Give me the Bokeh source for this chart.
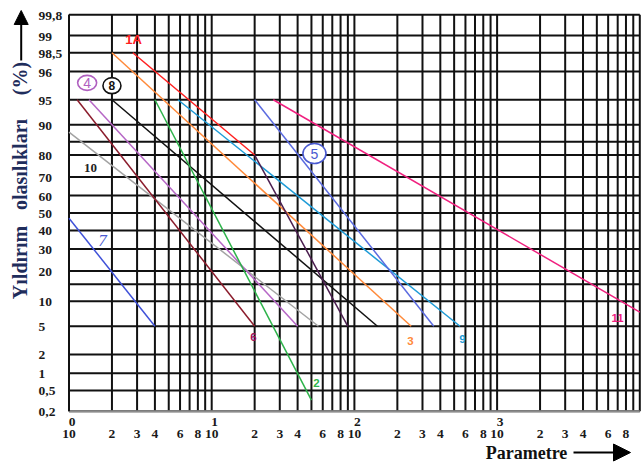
import math
import numpy as np
from statistics import NormalDist
from bokeh.plotting import figure
from bokeh.models import Range1d, Label, Arrow, NormalHead, ColumnDataSource
from bokeh.core.properties import value
from bokeh.embed import file_html
from bokeh.resources import INLINE

# ---------------- axis graduation ----------------
Y_TICK_VALUES = [0.2, 0.5, 1, 2, 5, 10, 20, 30, 40, 50, 60, 70, 80, 90, 95, 96, 98.5, 99, 99.8]
Y_TICK_LABELS = ["0,2", "0,5", "1", "2", "5", "10", "20", "30", "40", "50", "60", "70",
                 "80", "90", "95", "96", "98,5", "99", "99,8"]
Y_UNLABELLED_GRID = [15, 85]
# the chart's own graduation above 95 %
UPPER_LABELS = [95, 96, 98.5, 99, 99.8]
UPPER_NOMINAL = [95, 98, 99, 99.5, 99.8]

X_DECADES = [0, 1, 2, 3]
X_MULTIPLIERS = [1, 2, 3, 4, 5, 6, 7, 8, 9]
X_MINOR_LABELS = [2, 3, 4, 6, 8]

Y_TITLE_WORDS = ["Yıldırım", "olasılıkları", "(%)"]
X_TITLE = "Parametre"

# ---------------- series (parameter, probability %) ----------------
s1A_x = [2.8, 20];    s1A_p = [98.5, 80]
s1B_x = [20, 90];     s1B_p = [80, 5]
s2_x = [4, 50];       s2_p = [95, 0.33]
s3_x = [2, 250];      s3_p = [98.5, 5]
s4_x = [1.38, 40];    s4_p = [95, 5]
s5_x = [20, 360];     s5_p = [95, 5]
s6_x = [1.14, 20];    s6_p = [95, 5]
s7_x = [1.0, 4.0];    s7_p = [47, 5]
s8_x = [2, 145];      s8_p = [95, 5]
s9_x = [5.8, 550];    s9_p = [95, 5]
s10_x = [1.0, 56];    s10_p = [88, 5]
s11_x = [27, 10000];  s11_p = [95, 7.5]

SERIES = [
    (s10_x, s10_p, "#a3a3a3"),
    (s6_x, s6_p, "#8b1c2c"),
    (s4_x, s4_p, "#b667c6"),
    (s7_x, s7_p, "#3f51d8"),
    (s8_x, s8_p, "#111111"),
    (s2_x, s2_p, "#2db34a"),
    (s3_x, s3_p, "#ff8a3a"),
    (s9_x, s9_p, "#1e9bd7"),
    (s1A_x, s1A_p, "#ff2020"),
    (s1B_x, s1B_p, "#4b1e4f"),
    (s5_x, s5_p, "#5b6be0"),
    (s11_x, s11_p, "#f0207f"),
]

# line names
LABEL_TEXT = ["1A", "3", "9", "11", "6", "2", "10", "7"]
LABEL_X = [2.83, 247, 572, 6980, 19.6, 54.3, 1.415, 1.72]
LABEL_P = [98.9, 3.2, 3.4, 6.3, 3.54, 0.69, 74.1, 34.5]
LABEL_COLOR = ["#ff2020", "#ff8a3a", "#1e9bd7", "#f0207f", "#a0105a", "#2db34a", "#222222", "#4a5ad0"]

CIRCLE_TEXT = ["4", "8", "5"]
CIRCLE_X = [1.34, 2.0, 52.5]
CIRCLE_P = [95.6, 95.5, 80.6]
CIRCLE_COLOR = ["#b060c0", "#111111", "#4a5ad0"]

# ---------------- probability scale ----------------
ND = NormalDist()
Z_UPPER = [ND.inv_cdf(q / 100) for q in UPPER_NOMINAL]


def pz(values):
    out = []
    for v in np.atleast_1d(values):
        v = float(v)
        if v > 95:
            out.append(float(np.interp(v, UPPER_LABELS, Z_UPPER)))
        else:
            out.append(ND.inv_cdf(v / 100))
    return out


# ---------------- layout (canvas pixels) ----------------
CW, CH = 641, 466
LEFT, TOP, BOTTOM = 68.5, 14.3, 410.7
DECADE = 142.7
Z_LO, Z_HI = pz(Y_TICK_VALUES[0])[0], pz(Y_TICK_VALUES[-1])[0]
K = (BOTTOM - TOP) / (Z_HI - Z_LO)
X_LO = 10 ** X_DECADES[0]
X_HI = 10 ** (X_DECADES[-1] + 1)


def xpx(px):
    return 10 ** ((px - LEFT) / DECADE)


def ypx(py):
    return Z_LO + (BOTTOM - py) / K


p = figure(width=CW, height=CH, x_axis_type="log",
           x_range=Range1d(xpx(0), xpx(CW)), y_range=Range1d(ypx(CH), ypx(0)),
           output_backend="svg", toolbar_location=None,
           min_border=0, min_border_left=0, min_border_right=0, min_border_top=0, min_border_bottom=0)
p.axis.visible = False
p.grid.visible = False
p.outline_line_color = None
p.background_fill_color = "white"
p.border_fill_color = "white"

# grid
x_grid = [m * 10 ** k for k in X_DECADES for m in X_MULTIPLIERS] + [X_HI]
p.segment(x0=x_grid, x1=x_grid, y0=[Z_LO] * len(x_grid), y1=[Z_HI] * len(x_grid),
          line_color="#111111", line_width=2)
y_grid = pz(Y_TICK_VALUES + Y_UNLABELLED_GRID)
p.segment(x0=[X_LO] * len(y_grid), x1=[X_HI] * len(y_grid), y0=y_grid, y1=y_grid,
          line_color="#111111", line_width=2)
# axis lines
p.segment(x0=[X_LO], x1=[X_HI], y0=[Z_LO], y1=[Z_LO], line_color="#8c8c8c", line_width=2)
p.segment(x0=[X_LO], x1=[X_LO], y0=[Z_LO], y1=[Z_HI], line_color="#111111", line_width=2)

# curves
for xs, ps, col in SERIES:
    p.line(x=xs, y=pz(ps), line_color=col, line_width=1.5)

# circled labels
csrc = ColumnDataSource(dict(x=CIRCLE_X, y=pz(CIRCLE_P), c=CIRCLE_COLOR,
                             w=[19, 18, 23], h=[15, 16, 20]))
p.ellipse(x="x", y="y", width="w", height="h", width_units="screen", height_units="screen",
          fill_color="white", line_color="c", line_width=1.6, source=csrc)
for t, x, y, c in zip(CIRCLE_TEXT, CIRCLE_X, pz(CIRCLE_P), CIRCLE_COLOR):
    p.add_layout(Label(x=x, y=y, text=t, text_color=c, text_align="center", text_baseline="middle",
                       text_font="Liberation Sans", text_font_size="14px" if t != "8" else "12px",
                       text_font_style="bold" if t == "8" else "normal"))

for t, x, y, c in zip(LABEL_TEXT, LABEL_X, pz(LABEL_P), LABEL_COLOR):
    if t == "7":
        font, style, size = "Liberation Serif", "italic", "17px"
    elif t == "10":
        font, style, size = "Liberation Serif", "bold", "13px"
    elif t == "1A":
        font, style, size = "Liberation Sans", "bold", "13px"
    else:
        font, style, size = "Liberation Sans", "bold", "11.5px"
    p.add_layout(Label(x=x, y=y, text=t, text_color=c, text_align="center", text_baseline="middle",
                       text_font=font, text_font_style=style, text_font_size=size))

TICK_STYLE = dict(text_font=value("Liberation Serif"), text_font_style="bold",
                  text_font_size="13.5px", text_color="#1a1a1a", text_baseline="middle")

# y tick labels (left aligned, as in the original)
p.text(x=[xpx(38)] * len(Y_TICK_VALUES), y=[z - 1 / K for z in pz(Y_TICK_VALUES)],
       text=Y_TICK_LABELS, text_align="left", **TICK_STYLE)

# x tick labels: 10 with exponent above, and 2 3 4 6 8
dec_x = [10 ** k for k in X_DECADES]
p.text(x=dec_x, y=[ypx(433)] * len(dec_x), text=["10"] * len(dec_x), text_align="center", **TICK_STYLE)
p.text(x=dec_x, y=[ypx(421)] * len(dec_x), text=[str(k) for k in X_DECADES], x_offset=3,
       text_align="center", **TICK_STYLE)
min_x = [m * 10 ** k for k in X_DECADES for m in X_MINOR_LABELS]
p.text(x=min_x, y=[ypx(433)] * len(min_x), text=[str(m) for k in X_DECADES for m in X_MINOR_LABELS],
       text_align="center", **TICK_STYLE)

# axis titles and arrows
p.text(x=[xpx(19)] * 3, y=[ypx(262), ypx(164), ypx(78)], text=Y_TITLE_WORDS, angle=math.pi / 2,
       text_align="center", text_baseline="middle", text_font=value("Liberation Serif"),
       text_font_style="bold", text_font_size="20px", text_color="#1f2d5c")
p.add_layout(Arrow(x_start=xpx(20.7), y_start=ypx(60), x_end=xpx(20.7), y_end=ypx(10),
                   line_width=2, line_color="black",
                   end=NormalHead(size=14, fill_color="black", line_color="black")))
p.text(x=[xpx(526)], y=[ypx(452)], text=[X_TITLE], text_align="center", text_baseline="middle",
       text_font=value("Liberation Serif"), text_font_style="bold", text_font_size="18px",
       text_color="#111111")
p.add_layout(Arrow(x_start=xpx(573), y_start=ypx(452), x_end=xpx(630), y_end=ypx(452),
                   line_width=2, line_color="black",
                   end=NormalHead(size=17, fill_color="black", line_color="black")))

open("out.html", "w").write(file_html(p, INLINE))
